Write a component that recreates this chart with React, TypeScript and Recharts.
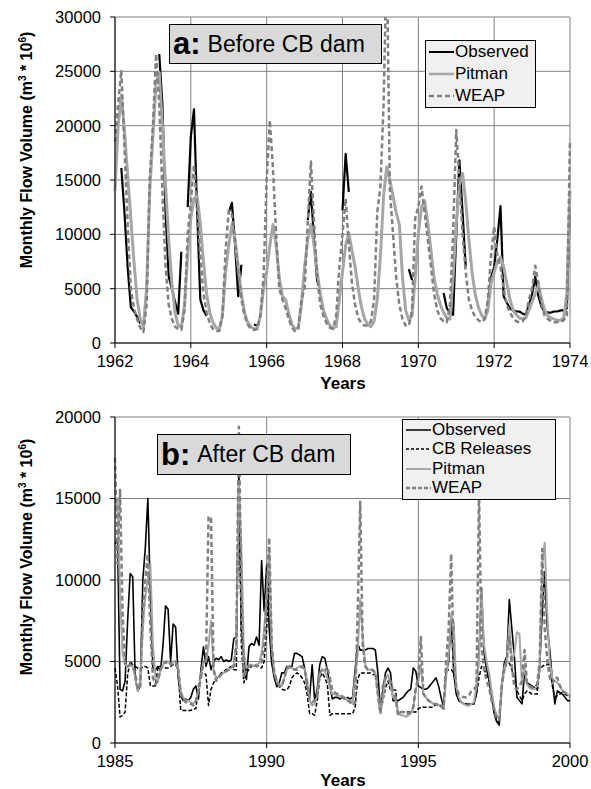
import { LineChart, Line, XAxis, YAxis, CartesianGrid } from 'recharts';

const FONT = '"Liberation Sans", Arial, Helvetica, sans-serif';
const n = null;

// ---- panel a: before CB dam, monthly 1962-01 .. 1974-01 ----
const topStart = 1962;
const topTicksX = [1962, 1964, 1966, 1968, 1970, 1972, 1974];
const topTicksY = [0, 5000, 10000, 15000, 20000, 25000, 30000];

const topObserved = [
  n, n, 16100, 12000, 7000, 3300, 2900, 2400, 1800, n, n, n,
  n, n, 26600, 22000, 12000, 6100, 5000, 3800, 2700, 8400, n, 12500,
  19000, 21500, 12000, 4000, 3000, 2500, n, n, n, n, n, n,
  12000, 12900, 9000, 4300, 7200, n, n, n, 1700, 1600, n, n,
  n, n, n, n, n, n, n, n, n, n, n, n,
  n, 11300, 13900, 9500, 5600, n, n, n, n, n, n, n,
  12200, 17400, 13900, n, n, n, n, n, n, n, n, n,
  n, n, n, n, n, n, n, n, n, 6800, 5800, n,
  n, n, n, n, n, n, n, n, 4600, 3200, 2800, 2600,
  10000, 16800, 12000, 7000, n, n, n, n, n, n, 3300, 6000,
  7000, 9500, 12600, 4300, 3700, 3200, 3000, 2900, 2900, 2700, 2600, 3500,
  4500, 6100, 4300, 3300, 2900, 2800, 2800, 2900, 2900, 3000, 3000, 3200,
  13000,
];

const topPitman = [
  14000, 20000, 22800, 19500, 15500, 11500, 7500, 4000, 2200, 1500, 5000, 14000,
  19000, 24000, 24900, 20000, 14500, 9500, 5500, 2800, 1600, 1500, 3500, 8000,
  11500, 13300, 13500, 11000, 7500, 4500, 2800, 1900, 1400, 1300, 2500, 6500,
  9000, 10900, 9500, 7000, 4500, 2800, 1900, 1500, 1300, 1300, 2500, 5000,
  6500, 9000, 10900, 9000, 6000, 4300, 4000, 2700, 1700, 1300, 1400, 3500,
  7000, 9500, 10900, 9000, 6500, 4500, 3000, 2200, 1600, 1400, 1500, 4000,
  6500, 9000, 10100, 8500, 7000, 5000, 3300, 2200, 1700, 1500, 2000, 4000,
  8000, 13500, 16200, 15000, 13500, 12000, 10900, 6000, 3000, 2100, 2500, 6000,
  10000, 12500, 13100, 11000, 8500, 6000, 4500, 3500, 2800, 2300, 2200, 6000,
  11000, 14500, 15600, 13000, 9500, 6500, 4500, 3300, 2600, 2200, 3000, 5500,
  6500, 7500, 7900, 7000, 5500, 4000, 3000, 2600, 2300, 2200, 2300, 3000,
  3800, 4500, 5300, 4000, 3000, 2500, 2300, 2200, 2100, 2100, 2300, 4500,
  14000,
];

const topWeap = [
  18500, 22000, 25100, 18000, 11000, 5000, 3200, 2200, 1400, 1000, 3500, 15200,
  20000, 26600, 22000, 14000, 7000, 3500, 2200, 1500, 1300, 1200, 3000, 10000,
  13000, 16400, 12500, 8000, 4500, 2800, 1800, 1300, 1100, 1100, 2500, 8500,
  12200, 11800, 9500, 6500, 4000, 2500, 1700, 1300, 1200, 1300, 2500, 6000,
  15000, 20500, 16000, 10000, 5000, 4000, 3200, 2200, 1400, 1100, 1300, 4000,
  5000, 11000, 16700, 11000, 6000, 3500, 2500, 1800, 1400, 1300, 2500, 7000,
  10000, 13300, 9000, 5500, 3500, 2300, 1800, 1600, 1600, 2000, 4000, 12000,
  14400, 22000, 36000, 14000, 10000, 6000, 3500, 2200, 1600, 1600, 3000, 11500,
  12500, 14400, 12000, 9500, 7000, 4500, 3000, 2300, 2000, 1900, 3500, 10000,
  19600, 15000, 10000, 6500, 4000, 3000, 2400, 2100, 1900, 2200, 4000, 8000,
  10700, 8000, 7000, 5000, 3500, 2800, 2300, 2000, 1900, 2000, 2500, 4000,
  5000, 7100, 5500, 3500, 2500, 2200, 2000, 1900, 1900, 1900, 2100, 2500,
  18700,
];

// ---- panel b: after CB dam, monthly 1985-01 .. 2000-01 ----
const botStart = 1985;
const botTicksX = [1985, 1990, 1995, 2000];
const botTicksY = [0, 5000, 10000, 15000, 20000];

const botObserved = [
  12200, 12500, 3300, 3200, 3800, 7500, 10400, 10200, 4000, 3200, 3500, 10000,
  12000, 15000, 9000, 4600, 4500, 4700, 4400, 6000, 8400, 8200, 5000, 7300,
  7100, 4000, 2900, 2600, 2700, 2600, 2800, 3300, 3500, 2700, 4500, 5900,
  4700, 5300, 4500, 5000, 5200, 5100, 5300, 5000, 5100, 5000, 5100, 6400,
  6500, 16500, 7000, 5300, 3900, 5900, 6100, 6000, 6500, 6000, 11200, 8100,
  10900, 7000, 4900, 4000, 3450, 3700, 4300, 4300, 4700, 4600, 4700, 5500,
  5500, 5400, 5300, 4600, 3500, 2800, 4800, 2600, 3300, 4800, 5300, 5200,
  4500, 3500, 2700, 2800, 2800, 2700, 2800, 2700, 2800, 2700, 2800, 4500,
  6100, 5700, 5700, 5700, 5800, 5800, 5800, 5700, 4300, 2000, 3200, 4300,
  4600, 4300, 2600, 2600, 2600, 2700, 2800, 3000, 3200, 3300, 4600, 4400,
  3500, 3400, 3300, 3300, 3400, 3600, 3800, 4000, 3500, 2800, 2200, 4300,
  5000, 7700, 4300, 3000, 2600, 2500, 2400, 2400, 2300, 2400, 2400, 3000,
  5500, 9500, 5500, 4500, 3900, 2800, 1800, 1300, 1100, 3500, 4900, 5300,
  8800, 7000, 5300, 2800, 2600, 2400, 4300, 3700, 3600, 3500, 3400, 3300,
  4700, 8000, 10500, 7100, 5700, 3900, 2400, 3200, 3100, 3000, 2800, 2600,
  2600,
];

const botReleases = [
  4600, 3500, 1600, 1700, 1900, 4200, 5000, 4800, 4700, 4600, 4500, 4700,
  4700, 4600, 3500, 3500, 3500, 4700, 4700, 4700, 4600, 4600, 4700, 4800,
  4800, 4500, 2000, 2000, 2000, 2000, 2000, 2100, 2100, 3500, 4300, 4300,
  4200, 2300, 3300, 3700, 3900, 4100, 4300, 4400, 4500, 4600, 4700, 4500,
  4500, 16000, 6000, 3700, 4300, 4500, 4700, 4800, 4800, 4700, 4600, 5000,
  7000, 11000, 5000, 4300, 3800, 3450, 3300, 3250, 3250, 3500, 4000, 4200,
  4300, 4200, 4000, 3700, 3000, 1800, 1800, 1700, 2600, 4000, 4300, 4000,
  3600, 1700, 1800, 1800, 1800, 1800, 1800, 1800, 1800, 1800, 1800, 2200,
  3900, 4300, 4300, 4300, 4300, 4300, 4200, 4200, 3500, 1900, 2600, 3400,
  3800, 3250, 3250, 3250, 1800, 1900, 1900, 1900, 1900, 1900, 1900, 1900,
  2100, 2200, 2200, 2200, 2200, 2200, 2200, 2400, 2300, 2300, 2200, 4500,
  4500, 4500, 4300, 3300, 2600, 2500, 2400, 2400, 2400, 2400, 2400, 3000,
  4000, 4700, 4500, 4200, 3800, 3000, 2200, 1500, 1200, 3500, 4500, 4900,
  4900, 4500, 4000, 3200, 2900, 2600, 3000, 3200, 3100, 3000, 3000, 3000,
  4500, 4700, 4800, 4800, 4800, 3500, 2800, 2900, 3000, 3100, 3000, 2900,
  2800,
];

const botPitman = [
  14000, 15000, 9000, 5500, 4800, 4700, 4800, 4700, 4000, 3200, 3800, 7000,
  9000, 10000, 11000, 6000, 4000, 3800, 4500, 4800, 5000, 5000, 4800, 5000,
  5000, 4500, 3200, 2800, 2600, 2600, 2500, 2400, 2600, 3200, 4200, 5000,
  5000, 6000, 7500, 4500, 4000, 4100, 4200, 4300, 4400, 4500, 4600, 4800,
  6000, 16000, 12000, 5500, 4600, 4800, 4800, 4700, 4800, 4900, 5500, 7000,
  9000, 12000, 6000, 4300, 3800, 3600, 3500, 4000, 4500, 4600, 4600, 4500,
  4600, 4700, 4700, 4500, 3800, 2600, 2300, 2400, 2900, 4300, 4500, 4400,
  4000, 3400, 3000, 3000, 2900, 2900, 2900, 2800, 2600, 2600, 2500, 4000,
  5500, 8800, 6500, 4800, 4500, 4500, 4400, 4300, 3000, 1800, 2800, 4000,
  4200, 3500, 2800, 2700, 1800, 1700, 1700, 1600, 1700, 1800, 2200, 3300,
  3800, 4800, 3000, 2800, 2600, 2500, 2400, 2400, 2300, 2200, 2100, 4000,
  5500, 7800, 7400, 3500, 2800, 2500, 2400, 2300, 2300, 2400, 2500, 3500,
  5000, 9300, 6000, 5000, 4300, 3200, 2200, 1700, 1500, 3500, 4600, 5100,
  7300, 5000, 5500, 6800, 6700, 3600, 4700, 3600, 3400, 3300, 3300, 3500,
  4500, 11000, 12300, 8000, 5000, 4000, 3800, 3700, 3500, 3200, 3100, 3000,
  2900,
];

const botWeap = [
  17500, 11000, 15600, 8000, 4800, 4700, 4800, 4700, 4300, 3300, 3500, 8000,
  10000, 11600, 7000, 4000, 3600, 3800, 4500, 4800, 5000, 4800, 4900, 4800,
  5000, 4500, 3000, 2700, 2500, 2500, 2400, 2300, 2600, 3200, 4000, 5000,
  5000, 13900, 13800, 4500, 3800, 4000, 4200, 4300, 4400, 4500, 4600, 4700,
  6000, 19400, 9000, 4000, 4500, 4700, 4800, 4800, 4700, 4800, 5000, 6000,
  9000, 12600, 6000, 4300, 3800, 3500, 3500, 4000, 4600, 4700, 4600, 4500,
  4500, 4600, 4700, 4500, 3800, 2600, 2500, 2600, 2800, 4300, 4500, 4400,
  4700, 4000, 3200, 3100, 3000, 2900, 2800, 2700, 2600, 2500, 2300, 2500,
  8000, 14800, 6000, 4700, 4500, 4500, 4500, 4300, 3000, 1800, 3500, 4000,
  4000, 3800, 3200, 2800, 1700, 1900, 1900, 1800, 1800, 1900, 2200, 3400,
  4000, 6500, 3000, 2800, 2600, 2500, 2400, 2400, 2300, 2300, 2100, 5000,
  7000, 11600, 5000, 3400, 3000, 2900, 2800, 2800, 2900, 3200, 3300, 3500,
  15500, 6000, 4500, 3800, 3400, 2600, 2000, 1500, 1400, 3500, 4500, 5100,
  6500, 4700, 3400, 3300, 3500, 3800, 5700, 3600, 3500, 3400, 3400, 3600,
  5000, 11900, 7000, 5100, 4000, 3650, 4000, 4000, 3500, 3200, 3100, 3000,
  2900,
];

const topRows = topObserved.map((v, i) => ({
  t: topStart + i / 12,
  obs: v,
  pitman: topPitman[i],
  weap: topWeap[i],
}));

const botRows = botObserved.map((v, i) => ({
  t: botStart + i / 12,
  obs: v,
  cb: botReleases[i],
  pitman: botPitman[i],
  weap: botWeap[i],
}));

const tickStyle = { fill: '#000', fontSize: 16.5, fontFamily: FONT };

function YLabel({ cy }: { cy: number }) {
  return (
    <div
      style={{
        position: 'absolute', left: 27, top: cy, transform: 'translate(-50%, -50%) rotate(-90deg)',
        whiteSpace: 'nowrap', fontFamily: FONT, fontWeight: 'bold', fontSize: 16, color: '#000', lineHeight: '18px',
      }}
    >
      Monthly Flow Volume (m<sup style={{ fontSize: 10, lineHeight: 0 }}>3</sup> * 10<sup style={{ fontSize: 10, lineHeight: 0 }}>6</sup>)
    </div>
  );
}

function XLabel({ cy }: { cy: number }) {
  return (
    <div style={{ position: 'absolute', left: 343, top: cy, transform: 'translate(-50%, -50%)', fontFamily: FONT, fontWeight: 'bold', fontSize: 17 }}>
      Years
    </div>
  );
}

function TitleBox({ left, top, width, height, tag, text }: any) {
  return (
    <div
      style={{
        position: 'absolute', left, top, width, height, boxSizing: 'border-box', background: '#d9d9d9',
        border: '1.5px solid #000', display: 'flex', alignItems: 'center', paddingLeft: 3, fontFamily: FONT, whiteSpace: 'nowrap',
      }}
    >
      <span style={{ fontWeight: 'bold', fontSize: 31 }}>{tag}</span>
      <span style={{ fontSize: 23, marginLeft: 7 }}>{text}</span>
    </div>
  );
}

function LegendBox({ left, top, width, height, rowH, items }: any) {
  return (
    <div
      style={{
        position: 'absolute', left, top, width, height, boxSizing: 'border-box', background: '#f0f0f0',
        border: '1.5px solid #000', fontFamily: FONT, fontSize: 17, paddingLeft: 3,
      }}
    >
      {items.map((it: any) => (
        <div key={it.label} style={{ height: rowH, display: 'flex', alignItems: 'center', whiteSpace: 'nowrap' }}>
          <svg width={25} height={8} style={{ marginRight: 1 }}>
            <line x1={0} y1={4} x2={25} y2={4} stroke={it.color} strokeWidth={it.w} strokeDasharray={it.dash} />
          </svg>
          <span>{it.label}</span>
        </div>
      ))}
    </div>
  );
}

export default function App() {
  return (
    <div style={{ position: 'absolute', left: 0, top: 0, width: 591, height: 789, background: '#fff' }}>
      {/* panel a */}
      <div style={{ position: 'absolute', left: 0, top: 0 }}>
        <LineChart width={591} height={395} data={topRows} margin={{ top: 17, right: 21, bottom: 0, left: 0 }}>
          <CartesianGrid stroke="#808080" strokeWidth={1} />
          <XAxis
            type="number" dataKey="t" domain={[1962, 1974]} ticks={topTicksX} interval={0} height={52}
            tick={tickStyle} tickSize={5} tickMargin={7} axisLine={{ stroke: '#000' }} tickLine={{ stroke: '#000' }}
          />
          <YAxis
            domain={[0, 30000]} ticks={topTicksY} interval={0} width={115} allowDataOverflow
            tick={tickStyle} tickSize={5} tickMargin={9} axisLine={{ stroke: '#000' }} tickLine={{ stroke: '#000' }}
          />
          <Line type="linear" dataKey="obs" stroke="#000" strokeWidth={2.2} dot={false} isAnimationActive={false} strokeLinejoin="round" />
          <Line type="linear" dataKey="pitman" stroke="#a6a6a6" strokeWidth={3} dot={false} isAnimationActive={false} strokeLinejoin="round" />
          <Line type="linear" dataKey="weap" stroke="#808080" strokeWidth={2.5} strokeDasharray="5 3" dot={false} isAnimationActive={false} strokeLinejoin="round" />
        </LineChart>
      </div>
      <TitleBox left={169} top={24} width={213} height={40} tag="a:" text="Before CB dam" />
      <LegendBox
        left={425} top={40} width={111} height={68} rowH={22}
        items={[
          { label: 'Observed', color: '#000', w: 2 },
          { label: 'Pitman', color: '#a6a6a6', w: 2.5 },
          { label: 'WEAP', color: '#808080', w: 2.5, dash: '5 3' },
        ]}
      />
      <YLabel cy={150} />
      <XLabel cy={384} />

      {/* panel b */}
      <div style={{ position: 'absolute', left: 0, top: 400 }}>
        <LineChart width={591} height={389} data={botRows} margin={{ top: 17, right: 21, bottom: 0, left: 0 }}>
          <CartesianGrid stroke="#808080" strokeWidth={1} />
          <XAxis
            type="number" dataKey="t" domain={[1985, 2000]} ticks={botTicksX} interval={0} height={46}
            tick={tickStyle} tickSize={5} tickMargin={7} axisLine={{ stroke: '#000' }} tickLine={{ stroke: '#000' }}
          />
          <YAxis
            domain={[0, 20000]} ticks={botTicksY} interval={0} width={115} allowDataOverflow
            tick={tickStyle} tickSize={5} tickMargin={9} axisLine={{ stroke: '#000' }} tickLine={{ stroke: '#000' }}
          />
          <Line type="linear" dataKey="obs" stroke="#000" strokeWidth={1.6} dot={false} isAnimationActive={false} strokeLinejoin="round" />
          <Line type="linear" dataKey="cb" stroke="#000" strokeWidth={1.5} strokeDasharray="4 2" dot={false} isAnimationActive={false} strokeLinejoin="round" />
          <Line type="linear" dataKey="pitman" stroke="#a6a6a6" strokeWidth={2} dot={false} isAnimationActive={false} strokeLinejoin="round" />
          <Line type="linear" dataKey="weap" stroke="#808080" strokeWidth={2.5} strokeDasharray="5 3" dot={false} isAnimationActive={false} strokeLinejoin="round" />
        </LineChart>
      </div>
      <TitleBox left={157} top={434} width={194} height={41} tag="b:" text="After CB dam" />
      <LegendBox
        left={402} top={419} width={154} height={81} rowH={19.5}
        items={[
          { label: 'Observed', color: '#000', w: 1.5 },
          { label: 'CB Releases', color: '#000', w: 1.5, dash: '3 2' },
          { label: 'Pitman', color: '#a6a6a6', w: 2 },
          { label: 'WEAP', color: '#808080', w: 2.5, dash: '4 2' },
        ]}
      />
      <YLabel cy={557} />
      <XLabel cy={781} />
    </div>
  );
}
